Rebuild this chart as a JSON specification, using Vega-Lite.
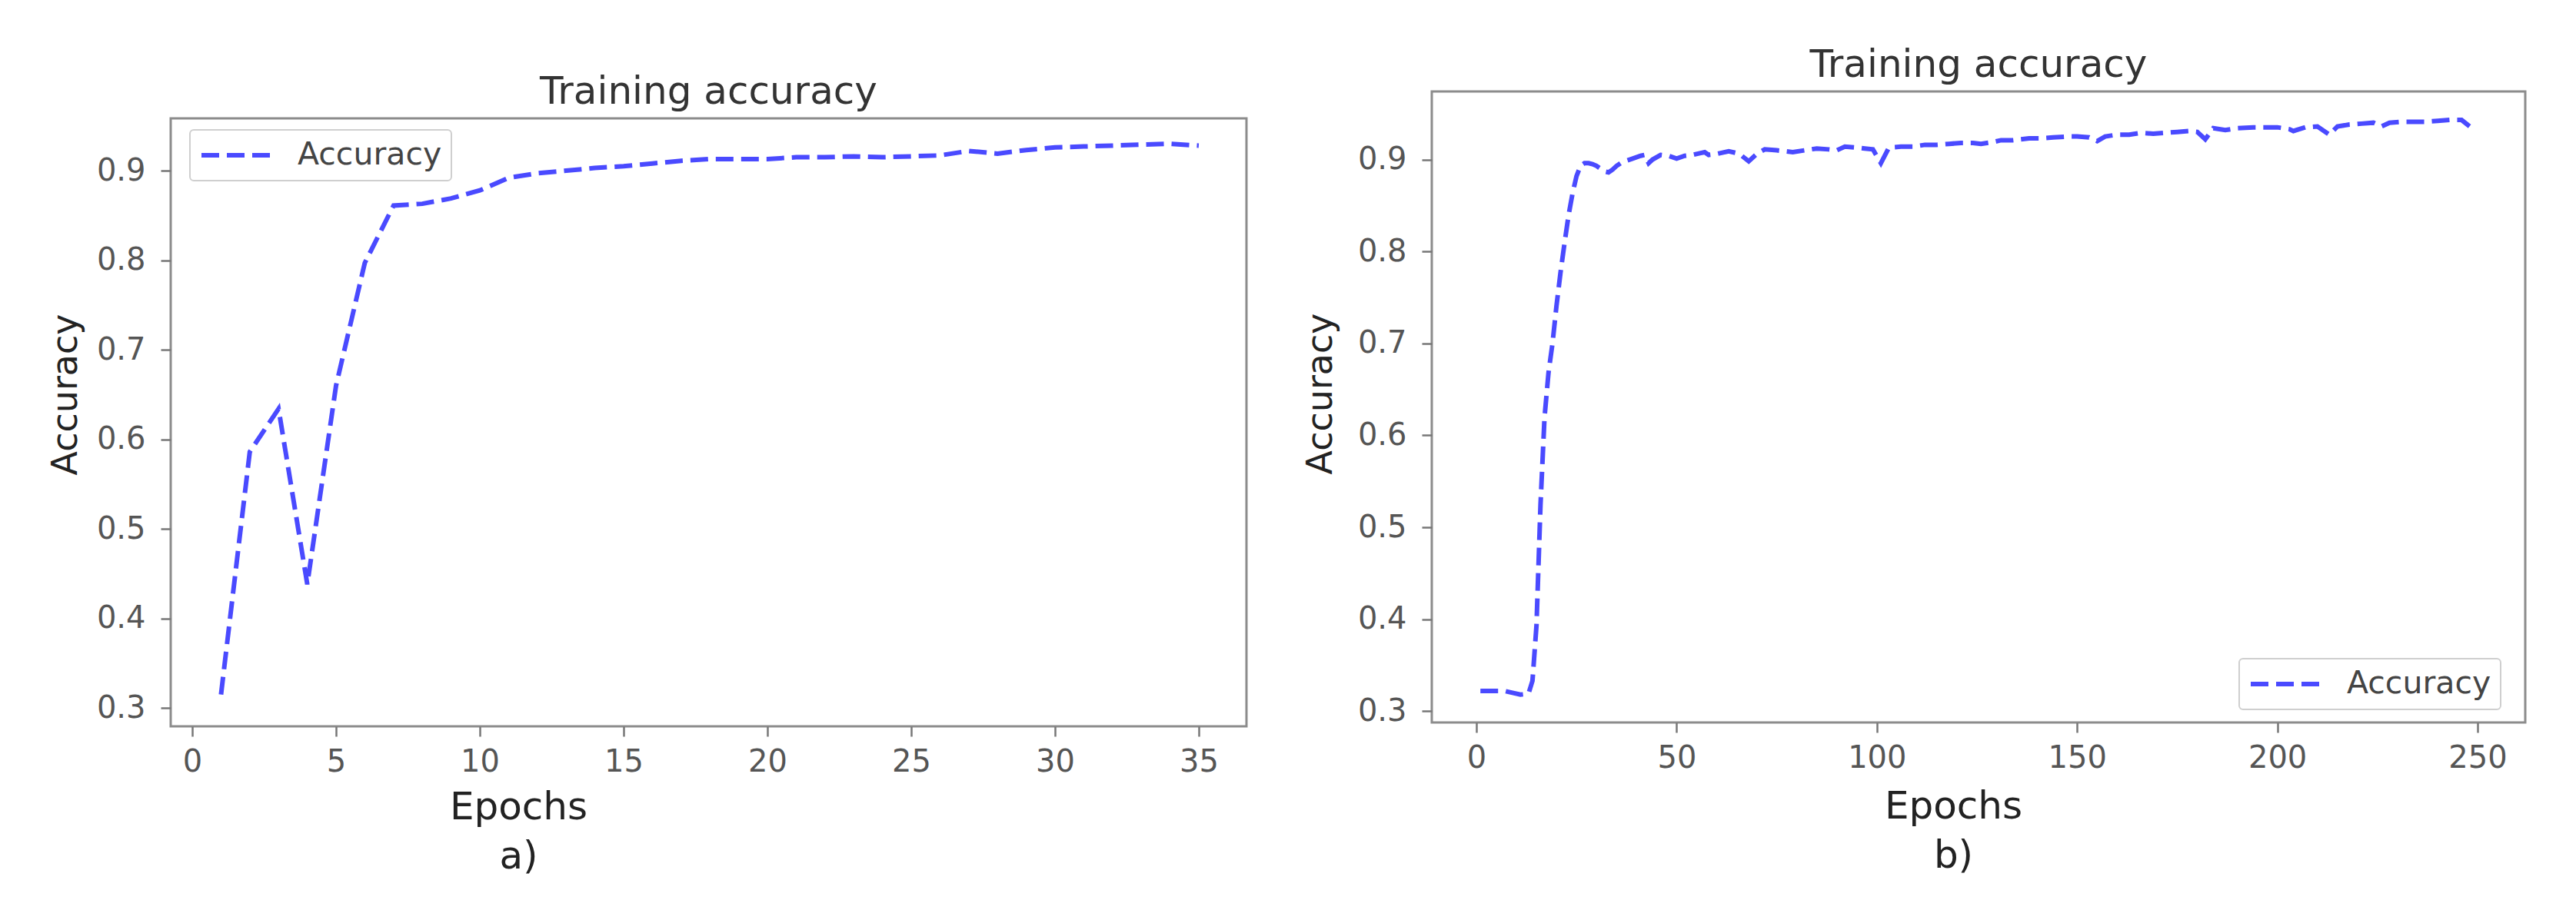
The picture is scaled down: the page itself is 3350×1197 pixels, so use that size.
{
  "$schema": "https://vega.github.io/schema/vega-lite/v6.json",
  "background": "white",
  "padding": {"left": 60, "top": 58, "right": 10, "bottom": 10},
  "config": {
    "font": "DejaVu Sans",
    "view": {"stroke": "#8c8c8c", "strokeWidth": 3},
    "axis": {
      "domain": false,
      "grid": false,
      "labelFontSize": 40,
      "labelColor": "#555555",
      "tickColor": "#777777",
      "tickSize": 13,
      "tickWidth": 2.5,
      "titleFontSize": 46,
      "titleColor": "#222222",
      "titleFontWeight": "normal"
    },
    "axisX": {"labelPadding": 13, "titleFontSize": 50, "titleBaseline": "alphabetic", "titleLineHeight": 64},
    "axisY": {"labelPadding": 20, "titleBaseline": "middle"},
    "title": {"fontSize": 50, "fontWeight": "normal", "color": "#333333", "baseline": "alphabetic", "offset": 9},
    "legend": {
      "symbolType": "stroke",
      "symbolSize": 8100,
      "symbolStrokeWidth": 6,
      "symbolDash": [23, 10],
      "clipHeight": 42,
      "padding": 12,
      "labelFontSize": 41,
      "labelColor": "#444444",
      "labelOffset": 32,
      "labelLimit": 500,
      "strokeColor": "#cfcfcf",
      "strokeWidth": 2,
      "cornerRadius": 5,
      "fillColor": "white"
    }
  },
  "datasets": {
    "a": [
      {"epoch": 1, "acc": 0.315}, {"epoch": 2, "acc": 0.586}, {"epoch": 3, "acc": 0.634},
      {"epoch": 4, "acc": 0.438}, {"epoch": 5, "acc": 0.66}, {"epoch": 6, "acc": 0.797},
      {"epoch": 7, "acc": 0.861}, {"epoch": 8, "acc": 0.863}, {"epoch": 9, "acc": 0.869},
      {"epoch": 10, "acc": 0.878}, {"epoch": 11, "acc": 0.892}, {"epoch": 12, "acc": 0.897},
      {"epoch": 13, "acc": 0.9}, {"epoch": 14, "acc": 0.903}, {"epoch": 15, "acc": 0.905},
      {"epoch": 16, "acc": 0.908}, {"epoch": 17, "acc": 0.911}, {"epoch": 18, "acc": 0.913},
      {"epoch": 19, "acc": 0.913}, {"epoch": 20, "acc": 0.913}, {"epoch": 21, "acc": 0.915},
      {"epoch": 22, "acc": 0.915}, {"epoch": 23, "acc": 0.916}, {"epoch": 24, "acc": 0.915},
      {"epoch": 25, "acc": 0.916}, {"epoch": 26, "acc": 0.917}, {"epoch": 27, "acc": 0.922},
      {"epoch": 28, "acc": 0.919}, {"epoch": 29, "acc": 0.923}, {"epoch": 30, "acc": 0.926},
      {"epoch": 31, "acc": 0.927}, {"epoch": 32, "acc": 0.928}, {"epoch": 33, "acc": 0.929},
      {"epoch": 34, "acc": 0.93}, {"epoch": 35, "acc": 0.928}
    ],
    "b": [
      {"epoch": 1, "acc": 0.322}, {"epoch": 4, "acc": 0.322}, {"epoch": 7, "acc": 0.322},
      {"epoch": 9, "acc": 0.32}, {"epoch": 11, "acc": 0.318}, {"epoch": 13, "acc": 0.319},
      {"epoch": 14, "acc": 0.333}, {"epoch": 15, "acc": 0.393}, {"epoch": 16, "acc": 0.524},
      {"epoch": 17, "acc": 0.619}, {"epoch": 18, "acc": 0.668}, {"epoch": 19, "acc": 0.7},
      {"epoch": 20, "acc": 0.741}, {"epoch": 21, "acc": 0.777}, {"epoch": 22, "acc": 0.809},
      {"epoch": 23, "acc": 0.839}, {"epoch": 24, "acc": 0.863}, {"epoch": 25, "acc": 0.882},
      {"epoch": 26, "acc": 0.893}, {"epoch": 27, "acc": 0.896}, {"epoch": 28, "acc": 0.896},
      {"epoch": 29, "acc": 0.895}, {"epoch": 30, "acc": 0.893}, {"epoch": 31, "acc": 0.89},
      {"epoch": 32, "acc": 0.887}, {"epoch": 33, "acc": 0.886}, {"epoch": 34, "acc": 0.889},
      {"epoch": 35, "acc": 0.893}, {"epoch": 36, "acc": 0.896}, {"epoch": 37, "acc": 0.898},
      {"epoch": 39, "acc": 0.901}, {"epoch": 41, "acc": 0.904}, {"epoch": 42, "acc": 0.905},
      {"epoch": 43, "acc": 0.896}, {"epoch": 44, "acc": 0.9}, {"epoch": 46, "acc": 0.905},
      {"epoch": 48, "acc": 0.904}, {"epoch": 50, "acc": 0.901}, {"epoch": 52, "acc": 0.904},
      {"epoch": 54, "acc": 0.905}, {"epoch": 56, "acc": 0.907}, {"epoch": 57, "acc": 0.908},
      {"epoch": 58, "acc": 0.905}, {"epoch": 60, "acc": 0.906}, {"epoch": 63, "acc": 0.909},
      {"epoch": 65, "acc": 0.907}, {"epoch": 66, "acc": 0.905}, {"epoch": 68, "acc": 0.898},
      {"epoch": 70, "acc": 0.906}, {"epoch": 72, "acc": 0.911}, {"epoch": 75, "acc": 0.91},
      {"epoch": 79, "acc": 0.908}, {"epoch": 82, "acc": 0.91}, {"epoch": 85, "acc": 0.912},
      {"epoch": 88, "acc": 0.911}, {"epoch": 90, "acc": 0.91}, {"epoch": 92, "acc": 0.914},
      {"epoch": 95, "acc": 0.913}, {"epoch": 97, "acc": 0.912}, {"epoch": 99, "acc": 0.911},
      {"epoch": 101, "acc": 0.896}, {"epoch": 103, "acc": 0.913}, {"epoch": 106, "acc": 0.914},
      {"epoch": 109, "acc": 0.914}, {"epoch": 112, "acc": 0.916}, {"epoch": 115, "acc": 0.916},
      {"epoch": 118, "acc": 0.917}, {"epoch": 121, "acc": 0.918}, {"epoch": 124, "acc": 0.918},
      {"epoch": 126, "acc": 0.917}, {"epoch": 129, "acc": 0.919}, {"epoch": 131, "acc": 0.921},
      {"epoch": 134, "acc": 0.921}, {"epoch": 138, "acc": 0.923}, {"epoch": 141, "acc": 0.923},
      {"epoch": 144, "acc": 0.924}, {"epoch": 148, "acc": 0.925}, {"epoch": 150, "acc": 0.925},
      {"epoch": 153, "acc": 0.924}, {"epoch": 155, "acc": 0.92}, {"epoch": 157, "acc": 0.925},
      {"epoch": 160, "acc": 0.927}, {"epoch": 163, "acc": 0.927}, {"epoch": 166, "acc": 0.929},
      {"epoch": 169, "acc": 0.928}, {"epoch": 172, "acc": 0.929}, {"epoch": 175, "acc": 0.93},
      {"epoch": 178, "acc": 0.931}, {"epoch": 180, "acc": 0.93}, {"epoch": 182, "acc": 0.922},
      {"epoch": 184, "acc": 0.934}, {"epoch": 187, "acc": 0.932}, {"epoch": 190, "acc": 0.934},
      {"epoch": 194, "acc": 0.935}, {"epoch": 197, "acc": 0.935}, {"epoch": 200, "acc": 0.935},
      {"epoch": 203, "acc": 0.933}, {"epoch": 204, "acc": 0.931}, {"epoch": 207, "acc": 0.935},
      {"epoch": 210, "acc": 0.936}, {"epoch": 213, "acc": 0.927}, {"epoch": 215, "acc": 0.936},
      {"epoch": 218, "acc": 0.938}, {"epoch": 221, "acc": 0.939}, {"epoch": 224, "acc": 0.94},
      {"epoch": 226, "acc": 0.936}, {"epoch": 228, "acc": 0.94}, {"epoch": 231, "acc": 0.941},
      {"epoch": 234, "acc": 0.941}, {"epoch": 237, "acc": 0.941}, {"epoch": 240, "acc": 0.942},
      {"epoch": 243, "acc": 0.943}, {"epoch": 246, "acc": 0.943}, {"epoch": 248, "acc": 0.936}
    ]
  },
  "spacing": 69,
  "resolve": {"scale": {"color": "independent"}, "legend": {"color": "independent"}},
  "hconcat": [
    {
      "spacing": 34,
      "bounds": "flush",
      "vconcat": [
        {
          "width": 1,
          "height": 1,
          "view": {"stroke": null},
          "data": {"values": []},
          "mark": "point"
        },
        {
          "width": 1399,
          "height": 791,
          "title": "Training accuracy",
          "data": {"name": "a"},
          "mark": {"type": "line", "strokeWidth": 6, "strokeDash": [23, 10]},
          "encoding": {
            "x": {
              "field": "epoch",
              "type": "quantitative",
              "scale": {"domain": [-0.75, 36.66], "nice": false, "zero": false},
              "axis": {"values": [0, 5, 10, 15, 20, 25, 30, 35], "title": ["Epochs", "a)"], "titleX": 452, "titleY": 120}
            },
            "y": {
              "field": "acc",
              "type": "quantitative",
              "scale": {"domain": [0.2794, 0.9584], "nice": false, "zero": false},
              "axis": {"values": [0.3, 0.4, 0.5, 0.6, 0.7, 0.8, 0.9], "format": ".1f", "title": "Accuracy", "titleX": -137, "titleY": 359}
            },
            "color": {
              "datum": "Accuracy",
              "scale": {"range": ["#4a4aff"]},
              "legend": {"title": null, "orient": "none", "legendX": 25, "legendY": 50}
            }
          }
        }
      ]
    },
    {
      "width": 1422,
      "height": 821,
      "title": "Training accuracy",
      "data": {"name": "b"},
      "mark": {"type": "line", "strokeWidth": 6, "strokeDash": [23, 10]},
      "encoding": {
        "x": {
          "field": "epoch",
          "type": "quantitative",
          "scale": {"domain": [-11.14, 261.9], "nice": false, "zero": false},
          "axis": {"values": [0, 50, 100, 150, 200, 250], "title": ["Epochs", "b)"], "titleX": 678, "titleY": 124}
        },
        "y": {
          "field": "acc",
          "type": "quantitative",
          "scale": {"domain": [0.2877, 0.974], "nice": false, "zero": false},
          "axis": {"values": [0.3, 0.4, 0.5, 0.6, 0.7, 0.8, 0.9], "format": ".1f", "title": "Accuracy", "titleX": -145, "titleY": 393}
        },
        "color": {
          "datum": "Accuracy",
          "scale": {"range": ["#4a4aff"]},
          "legend": {"title": null, "orient": "none", "legendX": 1050, "legendY": 738}
        }
      }
    }
  ]
}
